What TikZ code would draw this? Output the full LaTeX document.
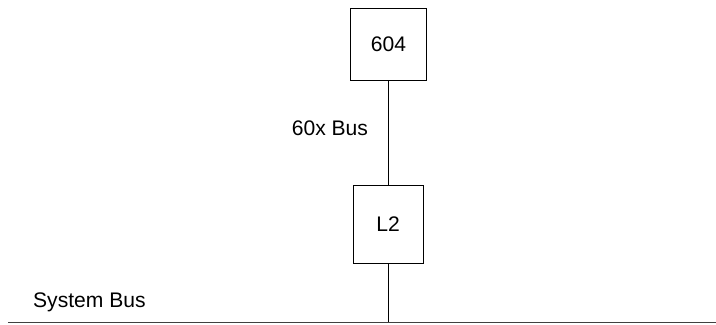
\documentclass[tikz,border=0pt]{standalone}
\usepackage{fontspec}
\setmainfont{Liberation Sans}
\usetikzlibrary{positioning,calc}

\begin{document}
\begin{tikzpicture}[line width=0.7pt,
    every node/.style={font=\fontsize{15}{18}\selectfont},
    unitbox/.style={draw, inner sep=0pt}]
    \useasboundingbox (0,0) rectangle (17.9,8.1);
    % Processor and cache
    \node[unitbox, minimum width=1.92cm, minimum height=1.78cm] (cpu) at (9.71,6.99) {604};
    \node[unitbox, minimum width=1.75cm, minimum height=1.93cm] (ltwo) at (9.7,2.49) {L2};

    % System bus
    \coordinate (busL) at (0.2,0.05);
    \coordinate (busR) at (17.9,0.05);
    \coordinate (tap) at (9.7,0.05);
    \draw[black!75] (busL) -- (busR);

    % Connections
    \draw (cpu.south -| ltwo) -- (ltwo.north);
    \draw (ltwo.south) -- (tap);

    % Labels
    \node[anchor=east] (lbus) at (9.33,4.9) {60x Bus};
    \node[anchor=west] (lsys) at (0.7,0.55) {System Bus};
\end{tikzpicture}
\end{document}
